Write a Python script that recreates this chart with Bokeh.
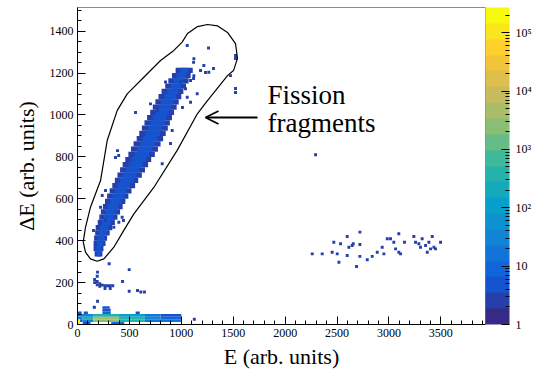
import numpy as np
from bokeh.plotting import figure
from bokeh.models import (ColumnDataSource, LogColorMapper, ColorBar, FixedTicker,
                          SingleIntervalTicker, Arrow, OpenHead, Label)
from bokeh.embed import file_html
from bokeh.resources import INLINE

# ---------------- data ----------------
E_MAX = 3930
DE_MAX = 1513
CELL_E = 28
CELL_DE = 14

# Fission-fragment band: rows (lower dE edge, height 25) with outer/inner E ranges
band_de = [325, 350, 375, 400, 425, 450, 475, 500, 525, 550, 575, 600, 625, 650, 675,
           700, 725, 750, 775, 800, 825, 850, 875, 900, 925, 950, 975, 1000, 1025, 1050,
           1075, 1100, 1125, 1150, 1175, 1200]
band_outer_lo = [165, 155, 155, 160, 170, 175, 195, 210, 225, 245, 265, 285, 310, 335, 360,
                 385, 410, 435, 460, 490, 515, 540, 570, 595, 620, 645, 670, 700, 725, 750,
                 780, 810, 845, 875, 910, 945]
band_outer_hi = [240, 250, 270, 285, 310, 335, 360, 385, 410, 435, 460, 490, 520, 555, 585,
                 620, 650, 680, 710, 745, 775, 800, 825, 850, 870, 890, 910, 930, 955, 975,
                 1000, 1020, 1045, 1070, 1090, 1110]
band_inner_lo = [185, 180, 185, 195, 205, 215, 235, 255, 270, 290, 315, 335, 360, 385, 410,
                 440, 465, 495, 520, 550, 575, 600, 630, 655, 680, 700, 725, 755, 780, 805,
                 835, 865, 895, 925, 955, 990]
band_inner_hi = [225, 230, 245, 260, 280, 300, 320, 345, 370, 395, 420, 450, 475, 505, 540,
                 570, 600, 630, 660, 690, 720, 745, 770, 795, 815, 835, 855, 880, 905, 925,
                 950, 970, 995, 1020, 1045, 1065]
band_outer_n = [3] * 36
band_inner_n = [6] * 30 + [4] * 6

# Low-dE strip: segments (lower dE edge, height 12.5)
low_de = [0, 0, 0,
          12.5, 12.5, 12.5, 12.5, 12.5, 12.5,
          25, 25, 25, 25, 25, 25,
          37.5, 37.5, 37.5, 37.5, 37.5,
          50, 50, 50, 50,
          62.5, 75, 75]
low_e_lo = [0, 50, 325,
            0, 25, 50, 150, 400, 650,
            0, 50, 150, 400, 650, 800,
            0, 150, 400, 650, 800,
            0, 60, 240, 560,
            240, 150, 240]
low_e_hi = [25, 125, 450,
            25, 50, 150, 400, 650, 1000,
            50, 150, 400, 650, 800, 1000,
            150, 400, 650, 800, 1000,
            40, 100, 320, 600,
            320, 175, 310]
low_n = [250000, 6, 8,
         150000, 5, 30, 3000, 300, 15,
         40, 300, 6000, 500, 40, 10,
         30, 400, 80, 15, 6,
         6, 5, 8, 4,
         6, 4, 4]

# Isolated cells
single_e = [1057, 1262, 1121, 1217, 1265, 1310, 1233, 1185, 1118, 1522, 1522, 1474, 1522, 1522,
            848, 1089, 1057, 1153, 1011, 1118, 559, 771, 385, 366, 722, 222, 238, 270, 154,
            270, 430, 443, 397, 816, 896, 912, 398, 350, 414, 446, 494, 703, 800, 992, 1040,
            1089, 1121,
            305, 193, 498, 165, 165, 190, 190, 215, 215, 240, 265, 290, 315, 340, 265, 315,
            190, 434, 498, 578, 610, 645, 193, 161, 1125,
            2261, 2357, 2453, 2469, 2502, 2518, 2534, 2598, 2614, 2646, 2598, 2656, 2720,
            2720, 2720, 2688, 2791, 2839, 2887, 2935, 2951, 2984, 3015, 3047, 3064, 3095,
            3095, 3112, 3150, 3240, 3256, 3288, 3320, 3353, 3385, 3417, 3433, 3369, 3497,
            3304, 3401, 3449, 2293]
single_de = [1332, 1320, 1268, 1236, 1204, 1222, 1203, 1212, 1251, 1284, 1270, 1188, 1126, 1107,
             1157, 1061, 1085, 1101, 1036, 1174, 1012, 1021, 830, 797, 815, 560, 616, 640, 449,
             496, 512, 496, 807, 767, 864, 926, 488, 464, 560, 592, 640, 1053, 1085, 1157, 1125,
             1165, 1188,
             290, 250, 262, 215, 200, 205, 190, 195, 182, 188, 185, 185, 185, 185, 172, 172,
             230, 205, 159, 162, 155, 155, 111, 83, 25,
             337, 337, 345, 393, 337, 297, 385, 420, 369, 377, 329, 385, 382,
             441, 325, 277, 309, 325, 345, 369, 337, 409, 409, 393, 361, 433,
             345, 337, 393, 420, 393, 385, 409, 377, 393, 420, 369, 345, 393,
             369, 361, 361, 810]
single_n = [3] * len(single_e)

# Graphical cut around the fission fragments
cut_e = [55, 77, 125, 222, 286, 382, 479, 639, 800, 928, 1008, 1060, 1156, 1252, 1350, 1445,
         1522, 1541, 1503, 1445, 1252, 1156, 960, 735, 543, 446, 350, 254, 189, 125, 77, 55]
cut_de = [393, 464, 560, 687, 878, 1021, 1101, 1180, 1260, 1308, 1348, 1389, 1422, 1432, 1425,
          1394, 1341, 1270, 1212, 1188, 1069, 1007, 831, 654, 528, 449, 369, 313, 302, 313,
          345, 393]

# Annotation
arrow_e = [1734, 1233]
arrow_de = 988
label_e = 1830
label_de = [1026, 888]
label_text = ["Fission", "fragments"]

# colour axis
Z_MIN, Z_MAX = 1, 2.7e5
cbar_ticks = [1, 10, 100, 1000, 10000, 100000]
cbar_labels = ["1", "10", "10\u00b2", "10\u00b3", "10\u2074", "10\u2075"]

# ---------------- palette (ROOT kBird, 20 contours) ----------------
stops = [0.0, 0.125, 0.25, 0.375, 0.5, 0.625, 0.75, 0.875, 1.0]
red = [0.2082, 0.0592, 0.0780, 0.0232, 0.1802, 0.5301, 0.8186, 0.9956, 0.9764]
green = [0.1664, 0.3599, 0.5041, 0.6419, 0.7178, 0.7492, 0.7328, 0.7862, 0.9832]
blue = [0.5293, 0.8684, 0.8385, 0.7914, 0.6425, 0.4662, 0.3499, 0.1968, 0.0539]
NCOL = 20
palette = []
for i in range(NCOL):
    t = i / (NCOL - 1)
    r = np.interp(t, stops, red)
    g = np.interp(t, stops, green)
    b = np.interp(t, stops, blue)
    palette.append("#%02x%02x%02x" % (int(r * 255), int(g * 255), int(b * 255)))

mapper = LogColorMapper(palette=palette, low=Z_MIN, high=Z_MAX)

FONT = "serif"
LABEL_FONT = "Times New Roman"

p = figure(width=539, height=374, x_range=(0, E_MAX), y_range=(0, DE_MAX),
           output_backend="svg", toolbar_location=None,
           min_border_left=77, min_border_top=7, min_border_bottom=50, min_border_right=54)
p.outline_line_color = "#8a8a8a"
p.grid.visible = False
p.background_fill_color = "white"
p.border_fill_color = "white"

src_outer = ColumnDataSource(dict(
    x=[(a + b) / 2 for a, b in zip(band_outer_lo, band_outer_hi)],
    w=[b - a for a, b in zip(band_outer_lo, band_outer_hi)],
    y=[d + 12.5 for d in band_de], h=[25] * len(band_de), n=band_outer_n))
src_inner = ColumnDataSource(dict(
    x=[(a + b) / 2 for a, b in zip(band_inner_lo, band_inner_hi)],
    w=[b - a for a, b in zip(band_inner_lo, band_inner_hi)],
    y=[d + 12.5 for d in band_de], h=[25] * len(band_de), n=band_inner_n))
src_low = ColumnDataSource(dict(
    x=[(a + b) / 2 for a, b in zip(low_e_lo, low_e_hi)],
    w=[b - a for a, b in zip(low_e_lo, low_e_hi)],
    y=[d + 6.25 for d in low_de], h=[12.5] * len(low_de), n=low_n))
src_single = ColumnDataSource(dict(x=single_e, y=single_de, n=single_n))

cmap = dict(field="n", transform=mapper)
for src in (src_outer, src_inner, src_low):
    p.rect(x="x", y="y", width="w", height="h", source=src, fill_color=cmap, line_color=None)
p.rect(x="x", y="y", width=CELL_E, height=CELL_DE, source=src_single,
       fill_color=cmap, line_color=None)

p.line(cut_e, cut_de, line_color="black", line_width=1.2)

p.add_layout(Arrow(end=OpenHead(size=13, line_width=1.8, line_color="black"),
                   x_start=arrow_e[0], y_start=arrow_de, x_end=arrow_e[1], y_end=arrow_de,
                   line_width=1.8, line_color="black"))
for t, yy in zip(label_text, label_de):
    p.add_layout(Label(x=label_e, y=yy, text=t, text_font=LABEL_FONT, text_font_size="27px",
                       text_color="black"))

# axes
p.xaxis.ticker = SingleIntervalTicker(interval=500, num_minor_ticks=5)
p.yaxis.ticker = SingleIntervalTicker(interval=200, num_minor_ticks=4)
p.xaxis.axis_label = "E (arb. units)"
p.yaxis.axis_label = "\u0394E (arb. units)"
for ax in (p.xaxis[0], p.yaxis[0]):
    ax.major_tick_in = 8
    ax.major_tick_out = 0
    ax.minor_tick_in = 4
    ax.minor_tick_out = 0
    ax.axis_line_color = "black"
    ax.major_tick_line_color = "black"
    ax.minor_tick_line_color = "black"
    ax.major_label_text_font = FONT
    ax.major_label_text_font_size = "12px"
    ax.major_label_text_color = "black"
    ax.major_label_standoff = 4
    ax.axis_label_text_font = FONT
    ax.axis_label_text_font_size = "22px"
    ax.axis_label_text_font_style = "normal"
    ax.axis_label_text_color = "black"
p.xaxis.axis_label_standoff = 4
p.yaxis.axis_label_standoff = 8

minor = []
for dec in cbar_ticks:
    for k in range(2, 10):
        if dec * k < Z_MAX:
            minor.append(dec * k)
cb = ColorBar(color_mapper=mapper,
              ticker=FixedTicker(ticks=cbar_ticks, minor_ticks=minor),
              major_label_overrides={t: l for t, l in zip(cbar_ticks, cbar_labels)},
              width=24, margin=3, padding=0, label_standoff=6,
              major_tick_line_color="black", major_tick_in=8, major_tick_out=0,
              minor_tick_line_color="black", minor_tick_in=4, minor_tick_out=0,
              major_label_text_font=FONT, major_label_text_font_size="12px",
              major_label_text_color="black",
              bar_line_color=None, border_line_color=None, background_fill_color=None)
p.add_layout(cb, "right")

open("out.html", "w").write(file_html(p, INLINE))
